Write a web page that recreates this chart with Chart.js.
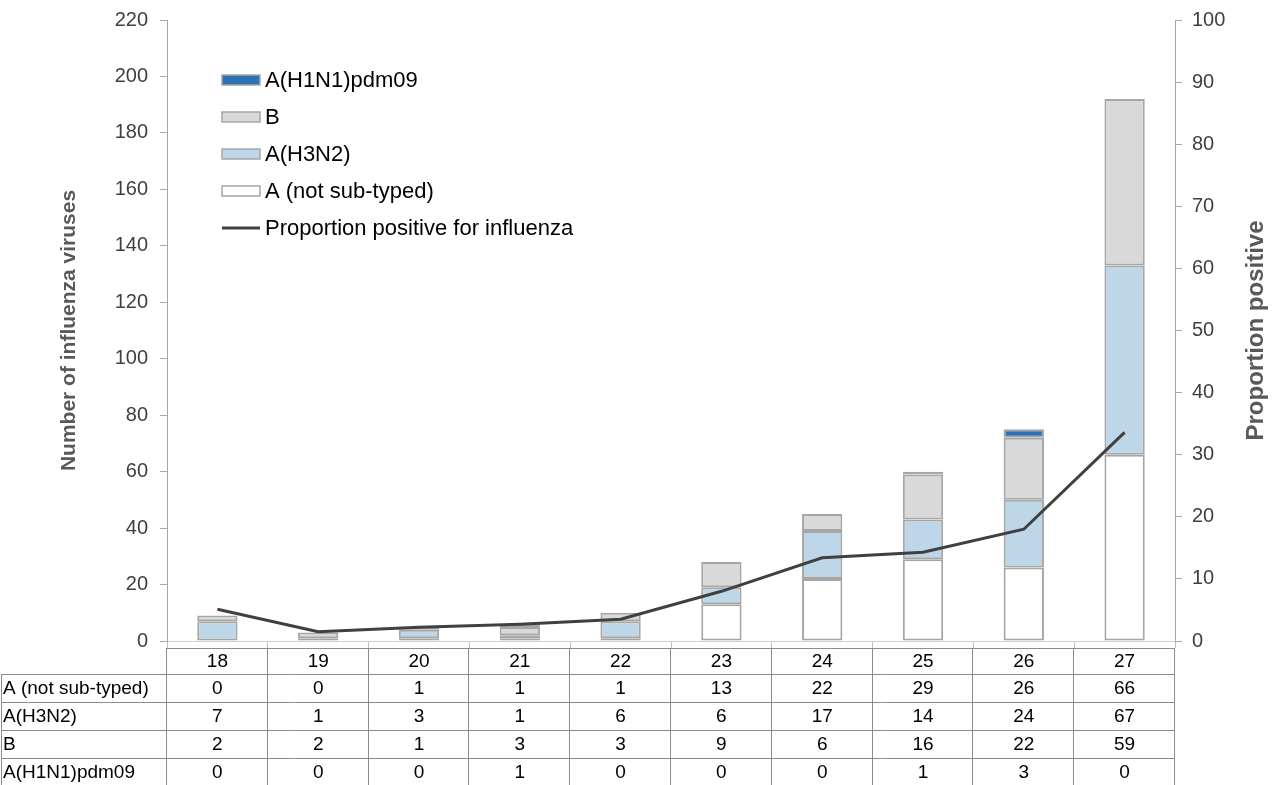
<!DOCTYPE html>
<html>
<head>
<meta charset="utf-8">
<script src="https://cdn.jsdelivr.net/npm/chart.js@4.4.1/dist/chart.umd.min.js"></script>
<style>
  body { margin: 0; background: #fff; }
  #contenedor { width: 1278px; height: 785px; }
</style>
</head>
<body>
<div id="contenedor"><canvas id="grafica" width="1278" height="785"></canvas></div>
<script>
// datos
const semanas = ["18", "19", "20", "21", "22", "23", "24", "25", "26", "27"];
const noSubtipado = [0, 0, 1, 1, 1, 13, 22, 29, 26, 66];
const h3n2 = [7, 1, 3, 1, 6, 6, 17, 14, 24, 67];
const tipoB = [2, 2, 1, 3, 3, 9, 6, 16, 22, 59];
const h1n1 = [0, 0, 0, 1, 0, 0, 0, 1, 3, 0];
const proporcion = [5.1, 1.5, 2.2, 2.7, 3.5, 8.0, 13.4, 14.3, 18.0, 33.6];

const nombres = ["A (not sub-typed)", "A(H3N2)", "B", "A(H1N1)pdm09", "Proportion positive for influenza"];
const colores = ["#ffffff", "#bdd7e8", "#d9d9d9", "#2e72b6"];
const colorBorde = "#a6a6a6";
const colorLinea = "#404040";
const fuente = "'Liberation Sans', Arial, sans-serif";

Chart.defaults.font.family = fuente;

// leyenda dentro del area del grafico
const pluginLeyenda = {
  id: "leyenda",
  afterDraw(chart) {
    const ctx = chart.ctx;
    const orden = [3, 2, 1, 0, 4];
    const x0 = 222, y0 = 80, paso = 37;
    ctx.save();
    ctx.font = "22px " + fuente;
    ctx.textBaseline = "middle";
    ctx.textAlign = "left";
    orden.forEach((idx, i) => {
      const y = y0 + i * paso;
      const ds = chart.data.datasets[idx];
      if (ds.type === "line") {
        ctx.strokeStyle = ds.borderColor;
        ctx.lineWidth = 3;
        ctx.beginPath();
        ctx.moveTo(x0, y);
        ctx.lineTo(x0 + 38, y);
        ctx.stroke();
      } else {
        ctx.fillStyle = ds.backgroundColor;
        ctx.fillRect(x0, y - 5, 38, 10);
        ctx.strokeStyle = colorBorde;
        ctx.lineWidth = 1.5;
        ctx.strokeRect(x0, y - 5, 38, 10);
      }
      ctx.fillStyle = "#000";
      ctx.fillText(ds.label, x0 + 43, y + 1);
    });
    ctx.restore();
  }
};

// titulo del eje derecho, leido de abajo hacia arriba
const pluginTituloDerecho = {
  id: "tituloDerecho",
  afterDraw(chart) {
    const ctx = chart.ctx;
    const area = chart.chartArea;
    ctx.save();
    ctx.translate(1256, (area.top + area.bottom) / 2);
    ctx.rotate(-Math.PI / 2);
    ctx.font = "bold 24px " + fuente;
    ctx.fillStyle = "#595959";
    ctx.textAlign = "center";
    ctx.textBaseline = "middle";
    ctx.fillText("Proportion positive", 0, 0);
    ctx.restore();
  }
};

// tabla de datos bajo el eje x
const pluginTabla = {
  id: "tabla",
  afterDraw(chart) {
    const ctx = chart.ctx;
    const xs = chart.scales.x;
    const area = chart.chartArea;
    const n = semanas.length;
    const ancho = (area.right - area.left) / n;
    const filas = [noSubtipado, h3n2, tipoB, h1n1];
    const yTop = 648, altoCab = 26, alto = 28;
    const yFin = yTop + altoCab + alto * filas.length;
    ctx.save();
    ctx.strokeStyle = "#8c8c8c";
    ctx.lineWidth = 1;
    ctx.beginPath();
    // lineas horizontales
    ctx.moveTo(area.left, yTop + 0.5);
    ctx.lineTo(area.right, yTop + 0.5);
    for (let r = 0; r <= filas.length; r++) {
      const y = Math.round(yTop + altoCab + r * alto) + 0.5;
      ctx.moveTo(1, y);
      ctx.lineTo(area.right, y);
    }
    // lineas verticales
    ctx.moveTo(1.5, yTop + altoCab);
    ctx.lineTo(1.5, yFin);
    for (let c = 0; c <= n; c++) {
      const x = Math.round(area.left + c * ancho) - 0.5;
      ctx.moveTo(x, yTop);
      ctx.lineTo(x, yFin);
    }
    ctx.stroke();

    ctx.fillStyle = "#000";
    ctx.font = "19px " + fuente;
    ctx.textBaseline = "middle";
    ctx.textAlign = "center";
    semanas.forEach((s, i) => {
      ctx.fillText(s, xs.getPixelForValue(i), yTop + altoCab / 2 + 1);
    });
    filas.forEach((fila, r) => {
      const yc = yTop + altoCab + r * alto + alto / 2 + 1;
      ctx.textAlign = "left";
      ctx.fillText(nombres[r], 3, yc);
      ctx.textAlign = "center";
      fila.forEach((v, i) => ctx.fillText(String(v), xs.getPixelForValue(i), yc));
    });
    ctx.restore();
  }
};

function barra(etiqueta, datos, color) {
  return {
    type: "bar",
    label: etiqueta,
    data: datos,
    backgroundColor: color,
    borderColor: colorBorde,
    borderWidth: 2,
    borderSkipped: false,
    yAxisID: "y",
    order: 1,
    barPercentage: 0.4,
    categoryPercentage: 1
  };
}

// ancho fijo y sin relleno extra arriba/abajo
function fijarAncho(ancho) {
  return (s) => {
    s.width = ancho;
    s.paddingTop = 0;
    s.paddingBottom = 0;
  };
}

function prepararConfiguracion() {
  const config = {
    type: "bar",
    data: {
      labels: semanas,
      datasets: [
        barra(nombres[0], noSubtipado, colores[0]),
        barra(nombres[1], h3n2, colores[1]),
        barra(nombres[2], tipoB, colores[2]),
        barra(nombres[3], h1n1, colores[3]),
        {
          type: "line",
          label: nombres[4],
          data: proporcion,
          borderColor: colorLinea,
          backgroundColor: colorLinea,
          borderWidth: 3,
          pointRadius: 0,
          tension: 0,
          yAxisID: "y1",
          order: 0
        }
      ]
    },
    options: {
      responsive: false,
      animation: false,
      layout: { padding: { top: 20, left: 0, right: 0, bottom: 0 } },
      plugins: {
        legend: { display: false },
        tooltip: { enabled: false }
      },
      scales: {
        x: {
          stacked: true,
          offset: true,
          grid: { drawOnChartArea: false, drawTicks: true, tickLength: 7, color: "#bfbfbf", offset: true },
          border: { color: "#d0d0d0", width: 1 },
          ticks: { display: false },
          afterFit: (s) => { s.height = 144; s.paddingLeft = 0; s.paddingRight = 0; }
        },
        y: {
          position: "left",
          stacked: true,
          min: 0,
          max: 220,
          ticks: { stepSize: 20, color: "#404040", font: { size: 20 }, padding: 12 },
          grid: { drawOnChartArea: false, tickLength: 7, color: colorBorde },
          border: { color: colorBorde, width: 1 },
          title: {
            display: true,
            text: "Number of influenza viruses",
            color: "#595959",
            font: { size: 21, weight: "bold" },
            padding: { top: 57, bottom: 0 }
          },
          afterFit: fijarAncho(167)
        },
        y1: {
          position: "right",
          min: 0,
          max: 100,
          ticks: { stepSize: 10, color: "#404040", font: { size: 20 }, padding: 10 },
          grid: { drawOnChartArea: false, tickLength: 7, color: colorBorde },
          border: { color: colorBorde, width: 1 },
          afterFit: fijarAncho(103)
        }
      }
    },
    plugins: [pluginLeyenda, pluginTituloDerecho, pluginTabla]
  };
  return config;
}

function renderGrafica() {
  const config = prepararConfiguracion();
  const chartDOM = document.getElementById("grafica");
  new Chart(chartDOM, config);
}

renderGrafica();
</script>
</body>
</html>
